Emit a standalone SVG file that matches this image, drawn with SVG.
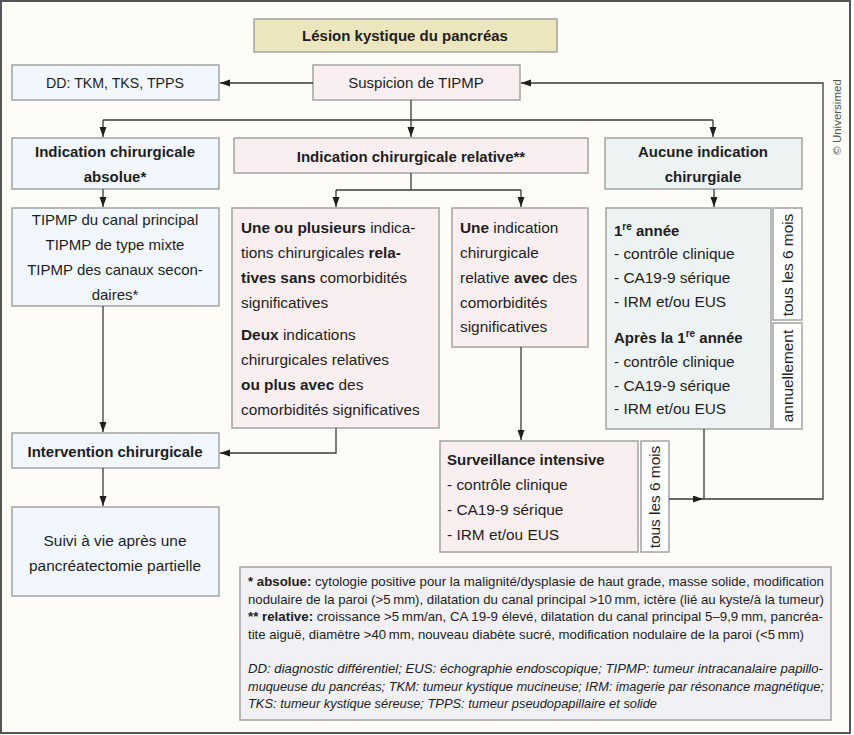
<svg xmlns="http://www.w3.org/2000/svg" width="854" height="735" viewBox="0 0 854 735">
<defs>
<style>
.box{stroke:#a3a3a3;stroke-width:1.5}
.blue{fill:#f1f7fc}
.pink{fill:#f9eff1}
.grey{fill:#edf2f2}
.white{fill:#ffffff}
.t{font-family:'Liberation Sans',Arial,sans-serif;font-size:15px;fill:#1e1e1e}
.r{font-size:15.4px}
.b{font-weight:bold}
.c{text-anchor:middle}
.fn{font-family:'Liberation Sans',Arial,sans-serif;font-size:12.8px;fill:#1e1e1e}
.i{font-style:italic}
.conn{stroke:#3a3a3a;stroke-width:1.3;fill:none}
</style>
<marker id="ah" markerUnits="userSpaceOnUse" markerWidth="11" markerHeight="8" refX="10" refY="3.5" orient="auto">
<path d="M0,0 L10,3.5 L0,7 z" fill="#1e1e1e"/>
</marker>
</defs>
<rect x="1" y="1" width="849" height="732" fill="#fdfcf7" stroke="#555" stroke-width="2"/>
<text class="t" transform="translate(841,117) rotate(-90)" text-anchor="middle" style="font-size:11.5px;fill:#555">© Universimed</text>

<g id="title"><rect x="254" y="19" width="303" height="33" fill="#ece6bf" class="box"/><text class="t b c" x="405" y="41">Lésion kystique du pancréas</text></g>
<g id="dd"><rect x="12" y="65" width="207" height="35" class="box blue"/><text class="t c" x="115" y="88" style="font-size:14.2px">DD: TKM, TKS, TPPS</text></g>
<g id="suspicion"><rect x="313" y="65" width="207" height="35" class="box pink"/><text class="t c" x="416" y="88">Suspicion de TIPMP</text></g>
<g id="absolue"><rect x="12" y="138" width="207" height="51" class="box blue"/><text class="t b c" x="115" y="157">Indication chirurgicale</text><text class="t b c" x="115" y="182">absolue*</text></g>
<g id="relative"><rect x="234" y="138" width="354" height="35" class="box pink"/><text class="t b c" x="411" y="162">Indication chirurgicale relative**</text></g>
<g id="aucune"><rect x="605" y="138" width="197" height="51" class="box grey"/><text class="t b c" x="703" y="157">Aucune indication</text><text class="t b c" x="703" y="182">chirurgiale</text></g>
<g id="tipmp"><rect x="12" y="208" width="207" height="98" class="box blue"/>
<text class="t c" x="115" y="225">TIPMP du canal principal</text>
<text class="t c" x="115" y="250">TIPMP de type mixte</text>
<text class="t c" x="115" y="275">TIPMP des canaux secon-</text>
<text class="t c" x="115" y="300">daires*</text></g>
<g id="plusieurs"><rect x="232" y="208" width="207" height="220" class="box pink"/>
<text class="t r" x="241" y="233"><tspan class="b">Une ou plusieurs</tspan> indica-</text>
<text class="t r" x="241" y="258">tions chirurgicales <tspan class="b">rela-</tspan></text>
<text class="t r" x="241" y="283"><tspan class="b">tives sans</tspan> comorbidités</text>
<text class="t r" x="241" y="308">significatives</text>
<text class="t r" x="241" y="340"><tspan class="b">Deux</tspan> indications</text>
<text class="t r" x="241" y="365">chirurgicales relatives</text>
<text class="t r" x="241" y="390"><tspan class="b">ou plus avec</tspan> des</text>
<text class="t r" x="241" y="415">comorbidités significatives</text></g>
<g id="une"><rect x="452" y="208" width="136" height="139" class="box pink"/>
<text class="t r" x="460" y="233"><tspan class="b">Une</tspan> indication</text>
<text class="t r" x="460" y="258">chirurgicale</text>
<text class="t r" x="460" y="283">relative <tspan class="b">avec</tspan> des</text>
<text class="t r" x="460" y="308">comorbidités</text>
<text class="t r" x="460" y="332">significatives</text></g>
<g id="annee"><rect x="606" y="208" width="165" height="221" class="box grey"/>
<text class="t b" x="614" y="236">1<tspan style="font-size:10px" dy="-6">re</tspan><tspan dy="6"> année</tspan></text>
<text class="t r" x="614" y="259">- contrôle clinique</text>
<text class="t r" x="614" y="283">- CA19-9 sérique</text>
<text class="t r" x="614" y="307">- IRM et/ou EUS</text>
<text class="t b" x="614" y="343">Après la 1<tspan style="font-size:10px" dy="-6">re</tspan><tspan dy="6"> année</tspan></text>
<text class="t r" x="614" y="367">- contrôle clinique</text>
<text class="t r" x="614" y="391">- CA19-9 sérique</text>
<text class="t r" x="614" y="414">- IRM et/ou EUS</text></g>
<g id="six1"><rect x="773" y="208" width="29" height="112" class="box white"/><text class="t r c" transform="translate(793,265) rotate(-90)">tous les 6 mois</text></g>
<g id="annuel"><rect x="773" y="323" width="29" height="106" class="box white"/><text class="t r c" transform="translate(793,376) rotate(-90)">annuellement</text></g>
<g id="intervention"><rect x="12" y="433" width="207" height="35" class="box blue"/><text class="t b c" x="115" y="457">Intervention chirurgicale</text></g>
<g id="suivi"><rect x="12" y="507" width="207" height="89" class="box blue"/><text class="t r c" x="115" y="546">Suivi à vie après une</text><text class="t r c" x="115" y="571">pancréatectomie partielle</text></g>
<g id="surveillance"><rect x="440" y="441" width="198" height="111" class="box pink"/>
<text class="t b" x="447" y="465">Surveillance intensive</text>
<text class="t r" x="447" y="490">- contrôle clinique</text>
<text class="t r" x="447" y="515">- CA19-9 sérique</text>
<text class="t r" x="447" y="540">- IRM et/ou EUS</text></g>
<g id="six2"><rect x="641" y="441" width="28" height="111" class="box white"/><text class="t r c" transform="translate(660,497) rotate(-90)">tous les 6 mois</text></g>
<g id="footnote"><rect x="240" y="567" width="591" height="153" fill="#f0f0f5" class="box"/>
<text class="fn" x="248" y="586" textLength="576" lengthAdjust="spacingAndGlyphs"><tspan class="b">* absolue:</tspan> cytologie positive pour la malignité/dysplasie de haut grade, masse solide, modification</text>
<text class="fn" x="248" y="603.5" textLength="576" lengthAdjust="spacingAndGlyphs">nodulaire de la paroi (&gt;5&#8201;mm), dilatation du canal principal &gt;10&#8201;mm, ictère (lié au kyste/à la tumeur)</text>
<text class="fn" x="248" y="621" textLength="575" lengthAdjust="spacingAndGlyphs"><tspan class="b">** relative:</tspan> croissance &gt;5&#8201;mm/an, CA 19-9 élevé, dilatation du canal principal 5–9,9&#8201;mm, pancréa-</text>
<text class="fn" x="248" y="638.5" textLength="556" lengthAdjust="spacingAndGlyphs">tite aiguë, diamètre &gt;40&#8201;mm, nouveau diabète sucré, modification nodulaire de la paroi (&lt;5&#8201;mm)</text>
<text class="fn i" x="248" y="673" textLength="575" lengthAdjust="spacingAndGlyphs">DD: diagnostic différentiel; EUS: échographie endoscopique; TIPMP: tumeur intracanalaire papillo-</text>
<text class="fn i" x="248" y="690.5" textLength="576" lengthAdjust="spacingAndGlyphs">muqueuse du pancréas; TKM: tumeur kystique mucineuse; IRM: imagerie par résonance magnétique;</text>
<text class="fn i" x="248" y="708" textLength="409" lengthAdjust="spacingAndGlyphs">TKS: tumeur kystique séreuse; TPPS: tumeur pseudopapillaire et solide</text></g>

<g id="connectors">
<path class="conn" d="M313,83 H220" marker-end="url(#ah)"/>
<path class="conn" d="M411,100 V137" marker-end="url(#ah)"/>
<path class="conn" d="M103,120 H713"/>
<path class="conn" d="M103,120 V137" marker-end="url(#ah)"/>
<path class="conn" d="M713,120 V137" marker-end="url(#ah)"/>
<path class="conn" d="M103,189 V207" marker-end="url(#ah)"/>
<path class="conn" d="M411,173 V190"/>
<path class="conn" d="M336,190 H521"/>
<path class="conn" d="M336,190 V207" marker-end="url(#ah)"/>
<path class="conn" d="M521,190 V207" marker-end="url(#ah)"/>
<path class="conn" d="M714,189 V207" marker-end="url(#ah)"/>
<path class="conn" d="M103,306 V432" marker-end="url(#ah)"/>
<path class="conn" d="M336,428 V453 H220" marker-end="url(#ah)"/>
<path class="conn" d="M103,468 V506" marker-end="url(#ah)"/>
<path class="conn" d="M521,347 V440" marker-end="url(#ah)"/>
<path class="conn" d="M704,429 V499"/>
<path class="conn" d="M669,499 H703" marker-end="url(#ah)"/>
<path class="conn" d="M703,499 H823 V83 H521" marker-end="url(#ah)"/>
</g>
</svg>
